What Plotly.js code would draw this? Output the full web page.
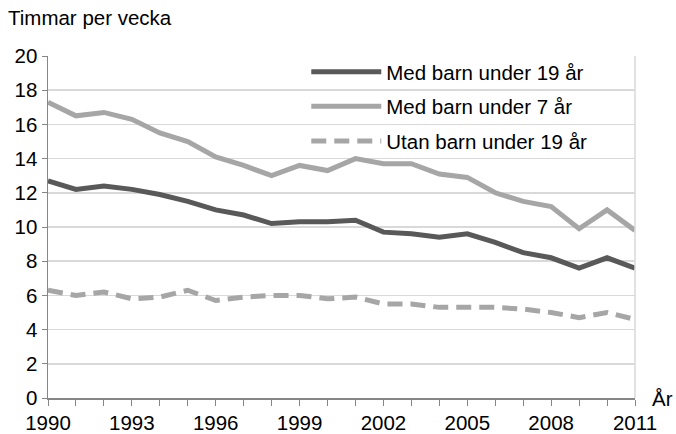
<!DOCTYPE html>
<html>
<head>
<meta charset="utf-8">
<script src="https://cdn.plot.ly/plotly-3.0.1.min.js"></script>
<style>html,body{margin:0;padding:0;background:#fff;}#chart{width:676px;height:434px;}</style>
</head>
<body>
<div id="chart"></div>
<script>
var years = [1990,1991,1992,1993,1994,1995,1996,1997,1998,1999,2000,2001,2002,2003,2004,2005,2006,2007,2008,2009,2010,2011];
var medBarn19 = [12.7,12.2,12.4,12.2,11.9,11.5,11.0,10.7,10.2,10.3,10.3,10.4,9.7,9.6,9.4,9.6,9.1,8.5,8.2,7.6,8.2,7.6];
var medBarn7 = [17.3,16.5,16.7,16.3,15.5,15.0,14.1,13.6,13.0,13.6,13.3,14.0,13.7,13.7,13.1,12.9,12.0,11.5,11.2,9.9,11.0,9.8];
var utanBarn19 = [6.3,6.0,6.2,5.8,5.9,6.3,5.7,5.9,6.0,6.0,5.8,5.9,5.5,5.5,5.3,5.3,5.3,5.2,5.0,4.7,5.0,4.6];
var seriesNames = ['Med barn under 19 år','Med barn under 7 år','Utan barn under 19 år'];
var xTickYears = [1990,1993,1996,1999,2002,2005,2008,2011];

var FONT = 'Liberation Sans, Arial, sans-serif';
var FS = 20.5;
var traces = [
  {x: years, y: medBarn19, name: seriesNames[0], legendgroup:'a', mode:'lines', line:{color:'#595959', width:5}},
  {x: years, y: medBarn7, name: seriesNames[1], legendgroup:'b', mode:'lines', line:{color:'#a6a6a6', width:5}},
  {x: years, y: utanBarn19, name: seriesNames[2], legendgroup:'c', mode:'lines', line:{color:'#a6a6a6', width:5, dash:'15px,8px'}}
];
var layout = {
  width: 676, height: 434,
  margin: {l:48, r:41, t:56, b:36},
  paper_bgcolor:'#fff', plot_bgcolor:'#fff',
  font: {family: FONT, size: FS, color:'#000'},
  showlegend: true,
  legend: {x: 0.44, y: 1.012, xanchor:'left', yanchor:'top', bgcolor:'rgba(0,0,0,0)',
           font:{family:FONT, size:FS, color:'#000'}, itemwidth: 70, tracegroupgap: 5, traceorder:'grouped'},
  xaxis: {range:[1990,2011], tickvals: xTickYears, ticktext: xTickYears.map(String),
          ticks:'outside', ticklen:6, tickcolor:'#868686', showline:true, linecolor:'#868686', linewidth:1.5,
          showgrid:false, zeroline:false, fixedrange:true,
          minor:{tickvals: years, ticks:'outside', ticklen:6, tickcolor:'#868686', showgrid:false},
          tickfont:{family:FONT, size:FS}},
  yaxis: {range:[0,20], dtick:2, tick0:0, ticks:'outside', ticklen:5, tickcolor:'#868686',
          showline:true, linecolor:'#868686', linewidth:1.5, gridcolor:'#d9d9d9', gridwidth:1.5,
          zeroline:false, fixedrange:true, tickfont:{family:FONT, size:FS}},
  shapes: [{type:'line', xref:'paper', yref:'paper', x0:1, x1:1, y0:0, y1:1, line:{color:'#d9d9d9', width:1.5}}],
  annotations: [
    {text:'Timmar per vecka', xref:'paper', yref:'paper', x:0, y:1, xshift:-42, yshift:25, xanchor:'left', yanchor:'bottom', showarrow:false, font:{family:FONT, size:FS}},
    {text:'År', xref:'paper', yref:'paper', x:1, y:0, xshift:15, yshift:-14, xanchor:'left', yanchor:'bottom', showarrow:false, font:{family:FONT, size:FS}}
  ]
};
Plotly.newPlot('chart', traces, layout, {displayModeBar:false, staticPlot:true});
</script>
</body>
</html>
